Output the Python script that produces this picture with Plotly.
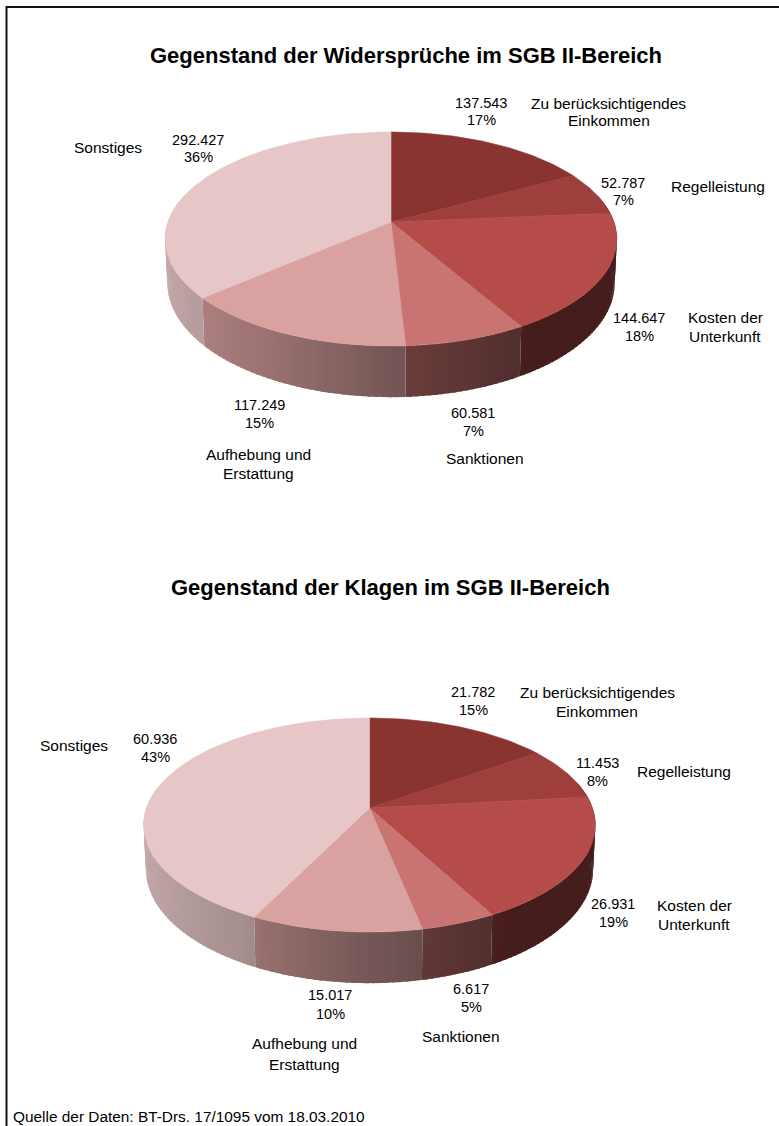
import numpy as np
import plotly.graph_objects as go

# ---- data ----
categories = ["Zu berücksichtigendes Einkommen", "Regelleistung", "Kosten der Unterkunft",
              "Sanktionen", "Aufhebung und Erstattung", "Sonstiges"]
widersprueche_values = [137543, 52787, 144647, 60581, 117249, 292427]
widersprueche_percent = [17, 7, 18, 7, 15, 36]
klagen_values = [21782, 11453, 26931, 6617, 15017, 60936]
klagen_percent = [15, 8, 19, 5, 10, 43]
title_1 = "Gegenstand der Widersprüche im SGB II-Bereich"
title_2 = "Gegenstand der Klagen im SGB II-Bereich"
source = "Quelle der Daten: BT-Drs. 17/1095 vom 18.03.2010"

# ---- style / layout ----
top_colors = [(138, 52, 50), (159, 63, 61), (181, 76, 74),
              (201, 116, 114), (217, 161, 160), (230, 198, 198)]
FONT = "Liberation Sans, Arial, sans-serif"
PERSP, RX, RY, DEPTH = 0.159, 223.0, 104.3, 43.0
shade_u = [-1, -0.5, 0, 0.57, 1]
shade_f = [0.85, 0.72, 0.54, 0.38, 0.38]
pie_1_center = (391, 222)
pie_2_center = (369.5, 808)
pie_1_labels = [((481, 103, 120), (608.5, 103, 120)), ((623, 183, 200), (718, 186, None)),
                ((639, 318, 336), (725, 317, 336)), ((473, 413, 431), (485, 458, None)),
                ((259, 405, 423), (258, 454, 473)), ((198, 140, 157), (108, 147, None))]
pie_2_labels = [((473, 692, 710), (597, 692, 711)), ((597, 763, 781), (684, 771, None)),
                ((613, 904, 922), (694, 905, 924)), ((471, 989, 1007), (461, 1036, None)),
                ((330, 995, 1014), (304, 1043, 1064)), ((155, 739, 757), (74, 745, None))]
category_lines = [("Zu berücksichtigendes", "Einkommen"), ("Regelleistung",), ("Kosten der", "Unterkunft"),
                  ("Sanktionen",), ("Aufhebung und", "Erstattung"), ("Sonstiges",)]

fig = go.Figure()


def project(theta, cx, cy, depth=0.0):
    u, v = np.sin(theta), np.cos(theta)
    w = 1 + PERSP * v
    scale = 1 - 0.01 * (depth > 0)
    return cx + scale * RX * u / w, cy + (depth - RY * v) / w


def poly(xs, ys, rgb, name, width=0.6):
    col = "rgb(%d,%d,%d)" % tuple(int(round(c)) for c in rgb)
    fig.add_trace(go.Scatter(x=list(xs), y=list(ys), mode="lines", fill="toself", fillcolor=col,
                             line=dict(color=col, width=width), hoverinfo="text", text=name,
                             showlegend=False))


def draw_pie(values, center):
    cx, cy = center
    fracs = np.array(values, float) / sum(values)
    edges = np.concatenate([[0], np.cumsum(fracs)]) * 2 * np.pi
    # side wall: each strip overlaps the next one, which is drawn over it
    for i, name in enumerate(categories):
        a, b = max(edges[i], np.radians(75)), min(edges[i + 1], np.radians(285))
        if b <= a:
            continue
        n = max(1, int(np.ceil(np.degrees(b - a) / 1.5)))
        t = np.linspace(a, b, n + 1)
        for j in range(n):
            end = t[j + 1] if j == n - 1 else t[j + 1] + np.radians(0.8)
            t2 = np.array([t[j], (t[j] + end) / 2, end])
            xt, yt = project(t2, cx, cy)
            xb, yb = project(t2, cx, cy, DEPTH)
            f = np.interp(np.sin((t[j] + t[j + 1]) / 2), shade_u, shade_f)
            poly(np.r_[xt, xb[::-1], xt[0]], np.r_[yt, yb[::-1], yt[0]],
                 [c * f for c in top_colors[i]], name, width=0)
    # top face
    for i, name in enumerate(categories):
        t = np.linspace(edges[i], edges[i + 1], max(3, int(np.degrees(edges[i + 1] - edges[i]))))
        x, y = project(t, cx, cy)
        poly(np.r_[cx, x, cx], np.r_[cy, y, cy], top_colors[i], name)


annotations = []


def text(x, y, s, size=14.5, bold=False, anchor="center"):
    annotations.append(dict(x=x, y=y, text="<b>%s</b>" % s if bold else s, xref="x", yref="y",
                            showarrow=False, xanchor=anchor, yanchor="middle",
                            font=dict(family=FONT, size=size, color="#000000")))


def draw_labels(values, percents, positions):
    for v, p, lines, (vp, cp) in zip(values, percents, category_lines, positions):
        text(vp[0], vp[1], f"{v:,}".replace(",", "."))
        text(vp[0], vp[2], f"{p}%")
        text(cp[0], cp[1], lines[0], size=15.5)
        if len(lines) > 1:
            text(cp[0], cp[2], lines[1], size=15.5)


draw_pie(widersprueche_values, pie_1_center)
draw_pie(klagen_values, pie_2_center)
draw_labels(widersprueche_values, widersprueche_percent, pie_1_labels)
draw_labels(klagen_values, klagen_percent, pie_2_labels)
text(405.5, 55, title_1, size=22, bold=True)
text(390.5, 587, title_2, size=22, bold=True)
text(11, 1116, source, size=15.4, anchor="left")

fig.update_layout(
    width=779, height=1126, margin=dict(l=0, r=0, t=0, b=0, pad=0),
    paper_bgcolor="white", plot_bgcolor="white", annotations=annotations,
    xaxis=dict(range=[0, 779], visible=False, fixedrange=True),
    yaxis=dict(range=[1126, 0], visible=False, fixedrange=True),
    shapes=[
        dict(type="line", x0=6.5, x1=6.5, y0=6, y1=1126, xref="x", yref="y", line=dict(color="#111", width=2)),
        dict(type="line", x0=6, x1=779, y0=7, y1=7, xref="x", yref="y", line=dict(color="#111", width=2)),
    ],
)
fig.write_html("out.html", config=dict(displayModeBar=False),
               post_script="document.body.style.margin='0';document.body.style.overflow='hidden';")
